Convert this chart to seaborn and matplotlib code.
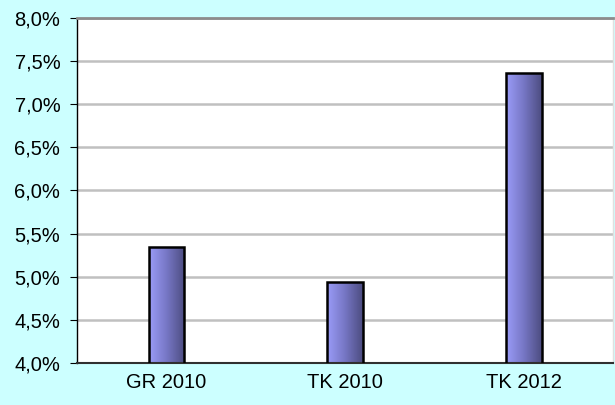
import numpy as np
import pandas as pd
import seaborn as sns
import matplotlib.pyplot as plt
from matplotlib.colors import LinearSegmentedColormap
from matplotlib.ticker import FuncFormatter

categories = ["GR 2010", "TK 2010", "TK 2012"]
values = [5.35, 4.94, 7.36]

df = pd.DataFrame({"cat": categories, "val": values})

sns.set_style("white")
plt.rcParams['font.family'] = ['Liberation Sans', 'DejaVu Sans']

fig = plt.figure(figsize=(6.15, 4.05), dpi=100, facecolor='#ccffff')
ax = fig.add_axes([0.1252, 0.1037, 0.872, 0.852])
ax.set_facecolor('white')

sns.barplot(data=df, x="cat", y="val", color='#9999ff', width=0.2,
            edgecolor='black', linewidth=1.8, ax=ax, zorder=3)

# horizontal gradient fill for each bar
cmap = LinearSegmentedColormap.from_list('g', ['#9a9cf8', '#7676c4', '#4c4c80'])
grad = np.linspace(0, 1, 256).reshape(1, -1)
for p in ax.patches:
    x0, y0 = p.get_x(), p.get_y()
    w, h = p.get_width(), p.get_height()
    p.set_facecolor('none')
    im = ax.imshow(grad, cmap=cmap, aspect='auto', extent=[x0, x0 + w, 4.0, y0 + h],
                   zorder=2.5)
    im.set_clip_path(p)

ax.set_ylim(4.0, 8.0)
ax.set_xlim(-0.5, 2.5)
ax.set_yticks(np.arange(4.0, 8.01, 0.5))
ax.yaxis.set_major_formatter(FuncFormatter(lambda v, _: f"{v:.1f}%".replace('.', ',')))
ax.grid(axis='y', color='#c0c0c0', linewidth=1.8, zorder=1)
ax.set_axisbelow(True)

ax.set_xticks([0.5, 1.5], minor=True)
ax.tick_params(axis='x', which='minor', length=5, color='black', direction='out')
ax.tick_params(axis='x', which='major', length=0, labelsize=14.5, labelcolor='black', pad=7)
ax.tick_params(axis='y', length=5, color='black', direction='out', left=True,
               labelsize=14.5, labelcolor='black', pad=7)

ax.spines['top'].set_color('#8c8c8c')
ax.spines['top'].set_linewidth(2)
ax.spines['right'].set_color('#e0e0e0')
ax.spines['right'].set_linewidth(1)
ax.spines['left'].set_color('black')
ax.spines['left'].set_linewidth(1.0)
ax.spines['bottom'].set_color('#303030')
ax.spines['bottom'].set_linewidth(1.5)

ax.set_xlabel('')
ax.set_ylabel('')

fig.savefig('out.png', dpi=100, facecolor=fig.get_facecolor())
